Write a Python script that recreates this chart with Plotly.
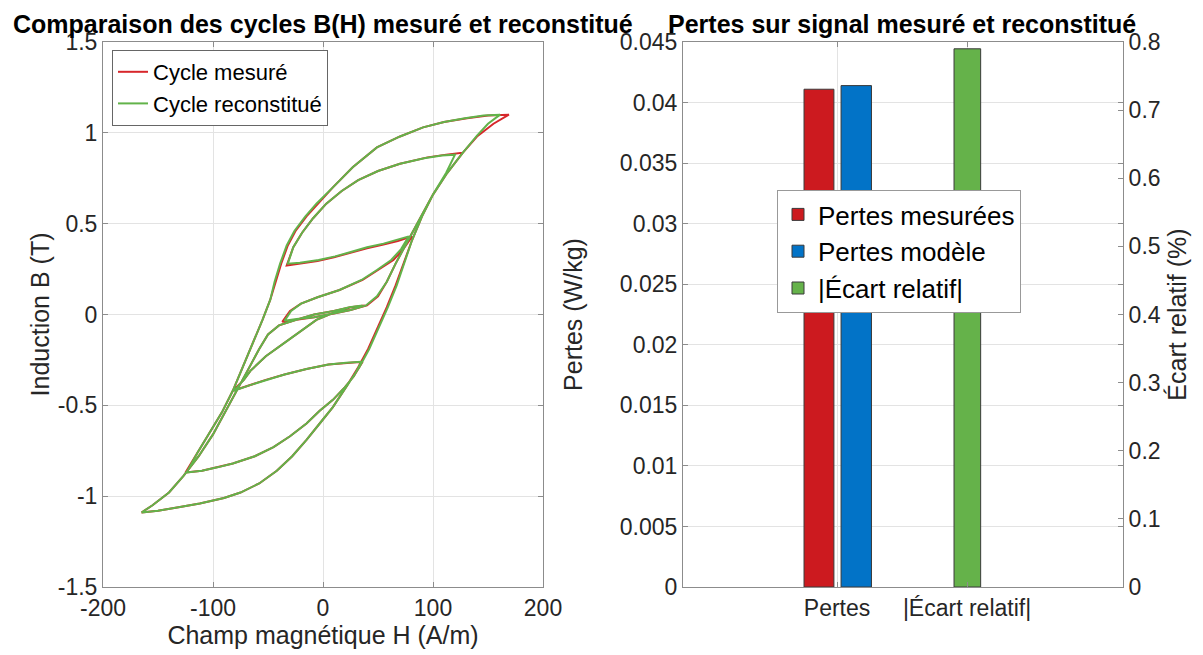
import plotly.graph_objects as go

# --- left panel: B(H) cycles, one line per branch ---
meas_H = [-165, -150, -130, -112, -90, -75, -58, -42, -28, -15, -3, 9, 22, 32, 41, 50, 58, 66, 74, 81, 90, 100, 113, 127,
          112, 95, 70, 50, 32, 17, 3, -9, -19, -27, -33,
          -22, -5, 10, 25, 40, 55, 68, 81,
          73, 64, 50, 36, 15, -5, -20, -30, -37,
          -25, -8, 10, 25, 40, 50, 58, 66, 74, 82, 91, 100, 113, 127, 140, 155, 169,
          150, 131, 110, 91, 70, 49, 27, 9, -5, -15, -25, -32, -38, -43, -48, -55, -62, -70, -76, -82, -92, -103, -114, -125,
          -110, -95, -82, -62, -45, -30, -15, -3, 9, 20, 28, 36,
          22, 5, -15, -35, -52, -67, -82,
          -72, -66, -52, -36, -20, -6, 10, 25, 38,
          25, 10, -8, -25, -40, -50, -58, -66, -74, -82, -91, -100, -113, -127, -140, -155, -165]
meas_B = [-1.09, -1.08, -1.06, -1.04, -1.01, -0.98, -0.93, -0.86, -0.78, -0.69, -0.60, -0.51, -0.39, -0.29, -0.19, -0.07, 0.04, 0.16, 0.29, 0.41, 0.54, 0.66, 0.78, 0.89,
          0.88, 0.865, 0.83, 0.79, 0.74, 0.68, 0.61, 0.53, 0.45, 0.37, 0.27,
          0.28, 0.295, 0.315, 0.34, 0.365, 0.385, 0.405, 0.43,
          0.36, 0.30, 0.245, 0.19, 0.135, 0.095, 0.06, 0.02, -0.04,
          -0.03, -0.015, 0.005, 0.025, 0.05, 0.10, 0.18, 0.28, 0.37, 0.46, 0.56, 0.66, 0.78, 0.89, 0.98, 1.05, 1.10,
          1.095, 1.08, 1.06, 1.03, 0.98, 0.92, 0.81, 0.70, 0.61, 0.54, 0.46, 0.38, 0.28, 0.18, 0.08, -0.03, -0.13, -0.24, -0.33, -0.42, -0.54, -0.65, -0.76, -0.87,
          -0.86, -0.84, -0.82, -0.78, -0.73, -0.67, -0.60, -0.53, -0.47, -0.40, -0.34, -0.26,
          -0.265, -0.275, -0.30, -0.33, -0.36, -0.39, -0.42,
          -0.36, -0.31, -0.23, -0.16, -0.09, -0.03, 0.01, 0.04, 0.05,
          0.04, 0.02, 0.0, -0.03, -0.06, -0.11, -0.19, -0.28, -0.37, -0.46, -0.56, -0.66, -0.78, -0.89, -0.98, -1.05, -1.09]

rec_H = [-165, -150, -130, -112, -90, -75, -58, -42, -28, -15, -3, 9, 22, 33, 42, 51, 59, 67, 74, 81, 90, 100, 112, 120,
         108, 92, 70, 50, 32, 17, 3, -9, -19, -27, -32,
         -21, -4, 11, 26, 40, 55, 67, 78,
         71, 62, 49, 35, 15, -5, -20, -29, -35,
         -24, -8, 10, 25, 39, 49, 58, 66, 74, 82, 91, 100, 113, 127, 140, 150, 161,
         146, 129, 110, 91, 70, 49, 27, 9, -6, -16, -26, -33, -39, -44, -48, -55, -62, -70, -76, -82, -92, -103, -114, -124,
         -110, -95, -82, -62, -45, -30, -15, -3, 9, 20, 28, 35,
         21, 5, -15, -35, -52, -67, -81,
         -72, -66, -52, -36, -20, -6, 10, 24, 36,
         24, 10, -8, -25, -40, -50, -58, -66, -74, -82, -91, -100, -113, -127, -140, -155, -165]
rec_B = [-1.09, -1.08, -1.06, -1.04, -1.01, -0.98, -0.93, -0.86, -0.78, -0.69, -0.60, -0.51, -0.39, -0.29, -0.19, -0.07, 0.04, 0.16, 0.29, 0.41, 0.54, 0.66, 0.78, 0.88,
         0.875, 0.86, 0.83, 0.79, 0.74, 0.68, 0.61, 0.53, 0.45, 0.37, 0.28,
         0.285, 0.30, 0.32, 0.345, 0.37, 0.39, 0.41, 0.43,
         0.36, 0.30, 0.245, 0.19, 0.135, 0.095, 0.06, 0.02, -0.035,
         -0.025, -0.015, 0.005, 0.025, 0.05, 0.10, 0.18, 0.28, 0.37, 0.46, 0.56, 0.66, 0.78, 0.89, 0.985, 1.05, 1.10,
         1.095, 1.08, 1.06, 1.03, 0.98, 0.92, 0.81, 0.70, 0.61, 0.54, 0.46, 0.38, 0.28, 0.18, 0.08, -0.03, -0.13, -0.24, -0.33, -0.42, -0.54, -0.65, -0.76, -0.87,
         -0.86, -0.84, -0.82, -0.78, -0.73, -0.67, -0.60, -0.53, -0.47, -0.40, -0.34, -0.26,
         -0.265, -0.275, -0.30, -0.33, -0.36, -0.39, -0.42,
         -0.36, -0.31, -0.23, -0.16, -0.09, -0.03, 0.01, 0.04, 0.05,
         0.04, 0.02, 0.0, -0.03, -0.06, -0.11, -0.19, -0.28, -0.37, -0.46, -0.56, -0.66, -0.78, -0.89, -0.98, -1.05, -1.09]

h_ticks = [-200, -100, 0, 100, 200]
h_labels = ["-200", "-100", "0", "100", "200"]
b_ticks = [-1.5, -1, -0.5, 0, 0.5, 1, 1.5]
b_labels = ["-1.5", "-1", "-0.5", "0", "0.5", "1", "1.5"]

# --- right panel: losses ---
categories = ["Pertes", "|Écart relatif|"]
pertes_mesurees = 0.0411   # W/kg
pertes_modele = 0.0414     # W/kg
ecart_relatif = 0.79       # %

FONT = "Liberation Sans, Arial, sans-serif"
TXT = "#262626"
AX = "#8c8c8c"
GRID = "#e3e3e3"
TICK = 23
LABEL = 25

# the page body adds an 8 px margin, so the figure is a bit smaller and
# positions below are given in window pixels and converted here
W, H, OFF = 1195, 647, 8


def px_x(x):
    return (x - OFF) / W


def px_y(y):
    return 1 - (y - OFF) / H


fig = go.Figure()

fig.add_trace(go.Scatter(x=meas_H, y=meas_B, mode="lines", name="Cycle mesuré",
                         line=dict(color="#d7262b", width=2), xaxis="x", yaxis="y", legend="legend"))
fig.add_trace(go.Scatter(x=rec_H, y=rec_B, mode="lines", name="Cycle reconstitué",
                         line=dict(color="#62b34a", width=2), xaxis="x", yaxis="y", legend="legend"))

fig.add_trace(go.Bar(x=[categories[0]], y=[pertes_mesurees], name="Pertes mesurées",
                     marker=dict(color="#cc1a1f", line=dict(color="#3a3a3a", width=1)),
                     offset=-0.254, width=0.23, xaxis="x2", yaxis="y2", legend="legend2"))
fig.add_trace(go.Bar(x=[categories[0]], y=[pertes_modele], name="Pertes modèle",
                     marker=dict(color="#0273c7", line=dict(color="#3a3a3a", width=1)),
                     offset=0.031, width=0.234, xaxis="x2", yaxis="y2", legend="legend2"))
fig.add_trace(go.Bar(x=[categories[1]], y=[ecart_relatif], name="|Écart relatif|",
                     marker=dict(color="#65b24a", line=dict(color="#3a3a3a", width=1)),
                     offset=-0.1, width=0.205, xaxis="x2", yaxis="y3", legend="legend2"))

axis_common = dict(showline=True, linecolor=AX, linewidth=1, mirror="ticks", ticks="inside",
                   ticklen=5, tickcolor=AX, showgrid=True, gridcolor=GRID, zeroline=False,
                   automargin=False, tickfont=dict(family=FONT, size=TICK, color=TXT))


def title(text, standoff):
    return dict(text=text, font=dict(family=FONT, size=LABEL, color=TXT), standoff=standoff)


ydom = [px_y(587), px_y(42)]

fig.update_layout(
    width=W, height=H,
    margin=dict(l=0, r=0, t=0, b=0),
    paper_bgcolor="white", plot_bgcolor="white",
    font=dict(family=FONT, color=TXT),
    showlegend=True,
    barmode="overlay",
    xaxis=dict(domain=[px_x(103), px_x(543)], range=[-200, 200], tickvals=h_ticks, ticktext=h_labels,
               anchor="y", title=title("Champ magnétique H (A/m)", 4), **axis_common),
    yaxis=dict(domain=ydom, range=[-1.5, 1.5], tickvals=b_ticks, ticktext=b_labels,
               anchor="x", title=title("Induction B (T)", 1), **axis_common),
    xaxis2=dict(domain=[px_x(683), px_x(1123)], range=[-1.185, 2.2], type="category", anchor="y2",
                **axis_common),
    yaxis2=dict(domain=ydom, range=[0, 0.045], dtick=0.005, anchor="x2",
                title=title("Pertes (W/kg)", 30), **axis_common),
    yaxis3=dict(range=[0, 0.8], dtick=0.1, overlaying="y2", side="right", anchor="x2",
                showline=True, linecolor=AX, ticks="inside", ticklen=5, tickcolor=AX, showgrid=False,
                zeroline=False, automargin=False, tickfont=dict(family=FONT, size=TICK, color=TXT),
                title=title("Écart relatif (%)", 8)),
    legend=dict(x=px_x(112), y=px_y(50), xanchor="left", yanchor="top",
                bgcolor="white", bordercolor="#666", borderwidth=1,
                font=dict(family=FONT, size=22, color="black"), tracegroupgap=0),
    legend2=dict(x=px_x(777), y=px_y(190), xanchor="left", yanchor="top",
                 bgcolor="white", bordercolor="#999", borderwidth=1,
                 font=dict(family=FONT, size=26, color="black"), tracegroupgap=0),
    annotations=[
        dict(text="<b>Comparaison des cycles B(H) mesuré et reconstitué</b>", x=px_x(323), y=px_y(24),
             xref="paper", yref="paper", xanchor="center", yanchor="middle", showarrow=False,
             font=dict(family=FONT, size=25, color="black")),
        dict(text="<b>Pertes sur signal mesuré et reconstitué</b>", x=px_x(902), y=px_y(24),
             xref="paper", yref="paper", xanchor="center", yanchor="middle", showarrow=False,
             font=dict(family=FONT, size=25, color="black")),
    ],
)

fig.write_html("out.html")
